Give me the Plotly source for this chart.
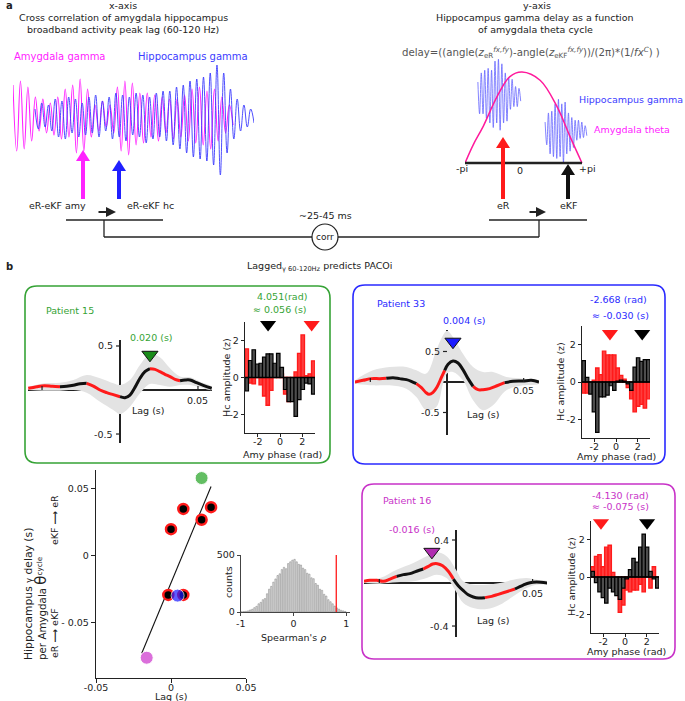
import numpy as np
import plotly.graph_objects as go

W, H = 685, 701
FONT = "DejaVu Sans"
TXT = "#222222"
RED = "#ff1a1a"
GREEN = "#36a336"
BLUE = "#2a2aff"
MAG = "#c832c8"
PINK = "#ff22ff"
HCBLUE = "#3c3cff"

# ================= DATA =================
# panel a – illustrative gamma traces (successive extrema, arbitrary units)
amy_gamma = [0.8, -0.85, 0.9, -0.8, 0.75, -0.6, 0.5, -0.35, 0.45, -0.4,
             0.35, -0.45, 0.5, -0.55, 0.7, -0.5, 0.8, -0.9, 0.95, -0.85,
             0.7, -0.5, 0.3, -0.35, 0.4, -0.25, 0.3, -0.4, 0.75, -0.85,
             0.9, -0.95, 0.85, -0.7, 0.6, -0.65, 0.6, -0.5, 0.55, -0.6,
             0.5, -0.4, 0.45, -0.55, 0.45, -0.5, 0.55, -0.6, 0.7, -0.65,
             0.75, -0.7, 0.65, -0.8, 0.7, -0.6, 0.5, -0.4, 0.3, -0.2]
hc_gamma = [0.2, -0.3, 0.35, -0.25, 0.3, -0.35, 0.45, -0.5, 0.4, -0.55,
            0.5, -0.4, 0.45, -0.5, 0.35, -0.45, 0.5, -0.4, 0.55, -0.5,
            0.4, -0.35, 0.5, -0.55, 0.6, -0.5, 0.55, -0.6, 0.5, -0.45,
            0.6, -0.5, 0.55, -0.65, 0.5, -0.55, 0.6, -0.5, 0.65, -0.6,
            0.65, -0.7, 0.75, -0.8, 0.8, -0.9, 0.9, -1.0, 0.95, -1.05,
            1.0, -1.1, 1.1, -1.2, 1.3, -1.45, 1.1, -0.9, 0.7, -0.55,
            0.45, -0.35, 0.3, -0.25, 0.2, -0.15]
# amygdala theta cycle (phase, normalised amplitude)
theta_phase = [-3.14, -2.7, -2.17, -1.42, -0.73, -0.08, 0.89, 1.8, 2.5, 3.14]
theta_amp = [0.0, 0.2, 0.40, 0.73, 0.95, 1.0, 0.91, 0.62, 0.29, 0.0]
burst1 = [0.15, -0.2, 0.25, -0.2, 0.28, -0.25, 0.3, -0.3, 0.28, -0.35, 0.38, -0.3, 0.4, -0.38, 0.35,
          -0.3, 0.25, -0.28, 0.2, -0.15, 0.18, -0.12, 0.1, -0.12, 0.08, -0.06]
burst2 = [0.1, -0.15, 0.2, -0.25, 0.22, -0.28, 0.3, -0.3, 0.35, -0.28, 0.3, -0.35, 0.32, -0.25, 0.2,
          -0.22, 0.15, -0.18, 0.12, -0.1, 0.12, -0.08, 0.1, -0.07, 0.06, -0.05]

# panel b – cross-correlation curves (lag s, r)
p15_lag = [-0.0588, -0.0534, -0.0485, -0.0434, -0.0385, -0.0342, -0.0299, -0.0256, -0.0214, -0.0171,
           -0.0128, -0.0085, -0.0043, 0.0, 0.0032, 0.0064, 0.0096, 0.0128, 0.0160, 0.0192, 0.0224,
           0.0256, 0.0288, 0.0321, 0.0353, 0.0385, 0.0417, 0.0449, 0.0491, 0.0534, 0.0588]
p15_r = [0.019, 0.038, 0.049, 0.042, 0.038, 0.042, 0.053, 0.072, 0.076, 0.045, 0.0, -0.030, -0.053,
         -0.076, -0.087, -0.057, 0.030, 0.133, 0.208, 0.242, 0.235, 0.208, 0.178, 0.152, 0.121, 0.106,
         0.114, 0.114, 0.083, 0.053, 0.019]
p15_breaks = [0, 4, 8, 13, 19, 25, 30]
p15_blag = [-0.0588, -0.0485, -0.0385, -0.0299, -0.0214, -0.0128, -0.0043, 0.0, 0.0064, 0.0128, 0.0192,
            0.0256, 0.0321, 0.0385, 0.0449, 0.0513, 0.0588]
p15_hi = [0.038, 0.076, 0.083, 0.114, 0.17, 0.133, 0.076, 0.057, 0.114, 0.284, 0.409, 0.371, 0.246,
          0.152, 0.144, 0.095, 0.038]
p15_lo = [0.0, -0.008, -0.008, 0.0, -0.03, -0.133, -0.227, -0.273, -0.189, -0.038, 0.068, 0.057, 0.038,
          0.057, 0.057, 0.030, 0.0]

p33_lag = [-0.0602, -0.0548, -0.0493, -0.0439, -0.0396, -0.0352, -0.0309, -0.0265, -0.0233, -0.0200,
           -0.0167, -0.0139, -0.0117, -0.0091, -0.0065, -0.0037, -0.0015, 0.0007, 0.0039, 0.0072,
           0.0104, 0.0137, 0.0170, 0.0202, 0.0235, 0.0278, 0.0322, 0.0376, 0.0430, 0.0496, 0.0550, 0.0600]
p33_r = [0.0, 0.027, 0.055, 0.055, 0.060, 0.071, 0.055, 0.038, 0.011, -0.027, -0.093, -0.169, -0.202,
         -0.169, -0.082, 0.071, 0.191, 0.290, 0.344, 0.311, 0.202, 0.055, -0.071, -0.126, -0.126, -0.109,
         -0.066, -0.011, 0.011, 0.016, 0.027, 0.0]
p33_breaks = [0, 4, 9, 16, 22, 27, 31]
p33_blag = [-0.0602, -0.0483, -0.0374, -0.0265, -0.0200, -0.0135, -0.0070, -0.0026, 0.0, 0.0039, 0.0104,
            0.0170, 0.0235, 0.0300, 0.0387, 0.0496, 0.0600]
p33_hi = [0.027, 0.191, 0.246, 0.246, 0.191, 0.137, 0.519, 0.765, 0.84, 0.738, 0.464, 0.246, 0.164,
          0.164, 0.082, 0.055, 0.027]
p33_lo = [-0.027, -0.055, -0.055, -0.109, -0.246, -0.464, -0.410, -0.027, 0.137, 0.164, 0.027, -0.301,
          -0.464, -0.383, -0.137, -0.055, -0.027]

p16_lag = [-0.0600, -0.0561, -0.0517, -0.0474, -0.0430, -0.0387, -0.0343, -0.0300, -0.0257, -0.0213,
           -0.0180, -0.0152, -0.0122, -0.0087, -0.0050, -0.0017, 0.0015, 0.0048, 0.0080, 0.0113, 0.0146,
           0.0189, 0.0233, 0.0276, 0.0330, 0.0385, 0.0439, 0.0483, 0.0526, 0.0596]
p16_r = [0.016, 0.025, 0.025, 0.016, 0.037, 0.062, 0.078, 0.087, 0.109, 0.130, 0.155, 0.177, 0.180,
         0.161, 0.109, 0.037, -0.025, -0.071, -0.109, -0.130, -0.140, -0.136, -0.124, -0.105, -0.081,
         -0.056, -0.019, 0.003, 0.009, 0.0]
p16_breaks = [0, 5, 9, 15, 21, 25, 29]
p16_blag = [-0.0600, -0.0496, -0.0387, -0.0278, -0.0191, -0.0126, -0.0061, 0.0, 0.0048, 0.0113, 0.0200,
            0.0287, 0.0374, 0.0461, 0.0526, 0.0596]
p16_hi = [0.031, 0.047, 0.124, 0.186, 0.248, 0.285, 0.248, 0.124, 0.016, -0.016, -0.016, 0.0, 0.031,
          0.047, 0.031, 0.016]
p16_lo = [0.0, -0.006, 0.006, 0.016, 0.047, 0.078, 0.047, -0.078, -0.186, -0.233, -0.242, -0.202,
          -0.124, -0.047, -0.016, -0.006]

# peak lag markers (lag s, r)
p15_peak = (0.0192, 0.40)
p33_peak = (0.0039, 0.66)
p16_peak = (-0.0157, 0.29)

# Hc amplitude (z) per amygdala phase bin (20 bins, -pi..pi)
p15_black = [-0.73, 0.92, 1.5, 0.73, 0.77, 1.1, 1.28, 1.28, 0.77, 1.3, 0.55, -0.65, -1.3, -1.3, -2.1, -1.2,
             -0.65, -0.3, -0.35, -0.9]
p15_red = [1.55, -0.3, -0.35, 0.15, -0.4, -1.0, -1.5, -0.7, 0.25, 0.3, 0.2, -0.9, -1.3, -0.6, 0.3, 1.3,
           2.3, 0.1, 0.2, 0.9]
p33_black = [1.15, 0.25, -0.65, -1.6, -2.7, -0.8, -0.8, -0.7, -0.2, -0.45, 0.05, 0.1, 0.05, -0.1, -0.45,
             0.8, 1.3, 1.1, 1.2, 1.2]
p33_red = [-0.6, -0.6, -0.3, 0.1, 0.75, 0.4, 1.65, 1.45, 1.45, 1.45, 0.75, 0.35, 0.15, -0.3, -0.9, -1.6,
           -1.3, -1.2, -1.4, -0.9]
p16_black = [0.3, -0.3, -0.8, -1.1, -1.4, -0.6, -0.8, -1.0, -1.2, -0.6, -0.1, 0.4, 1.0, 0.8, 1.6, 2.3,
             1.6, 0.3, -0.1, -0.6]
p16_red = [0.55, 1.1, 1.2, 0.55, 1.6, 1.7, 0.25, -0.6, -1.9, -1.5, -0.7, -0.8, -0.7, -0.7, -0.4, -0.8,
           0.2, -0.6, 0.55, 0.0]
# preferred phases (red = eR, black = eKF) and marker height
p15_pref = (2.84, -1.07, 2.86)
p33_pref = (-0.56, 2.42, 2.6)
p16_pref = (-2.22, 2.04, 2.9)

# scatter: lag vs delay
other_lag = [0.0, 0.0082, 0.0204, 0.0267, -0.0018, 0.0082]
other_delay = [0.0199, 0.035, 0.0269, 0.0363, -0.0291, -0.0291]
hl_lag = [0.0204, -0.0162, 0.0044]
hl_delay = [0.058, -0.0759, -0.0296]
fit_lag = [-0.0195, 0.0267]
fit_delay = [-0.0725, 0.0517]

# permutation distribution of Spearman's rho
rho_counts = [2, 4, 6, 10, 18, 24, 38, 50, 72, 85, 108, 118, 160, 200, 225, 262, 290, 320, 335, 372,
              392, 380, 425, 440, 455, 462, 440, 418, 412, 385, 372, 340, 332, 300, 292, 250, 235, 200,
              190, 155, 140, 108, 90, 72, 52, 36, 25, 15, 10, 5]
rho_obs = 0.81

# ================= FIGURE =================
fig = go.Figure()
axes = {}
anns = []
shapes = []


def X(x):
    return x / W


def Y(y):
    return 1 - y / H


def make_axes(n, xpx, ypx, xr, yr, xa=None, ya=None):
    xk = 'xaxis' if n == 1 else f'xaxis{n}'
    yk = 'yaxis' if n == 1 else f'yaxis{n}'
    xid = 'x' if n == 1 else f'x{n}'
    yid = 'y' if n == 1 else f'y{n}'
    base = dict(showgrid=False, zeroline=False, showline=False, ticks='', showticklabels=False,
                fixedrange=True, automargin=False, tickfont=dict(family=FONT, size=9.5, color=TXT))
    xd = dict(base, domain=[X(xpx[0]), X(xpx[1])], range=xr, anchor=yid)
    yd = dict(base, domain=[Y(ypx[1]), Y(ypx[0])], range=yr, anchor=xid)
    if xa:
        xd.update(xa)
    if ya:
        yd.update(ya)
    axes[xk] = xd
    axes[yk] = yd
    return xid, yid


def T(x, y, text, size=9.5, color=TXT, xa='center', ya='middle', angle=0):
    anns.append(dict(x=X(x), y=Y(y), xref='paper', yref='paper', text=text, showarrow=False,
                     font=dict(family=FONT, size=size, color=color), xanchor=xa, yanchor=ya,
                     textangle=angle))


def L(x0, y0, x1, y1, color=TXT, w=1.5):
    shapes.append(dict(type='line', xref='paper', yref='paper', x0=X(x0), y0=Y(y0), x1=X(x1), y1=Y(y1),
                       line=dict(color=color, width=w)))


def arrow_up(x, ytip, ybot, color, hw=14, hh=11, sw=4):
    L(x, ytip + hh - 1, x, ybot, color, sw)
    p = (f"M {X(x)} {Y(ytip)} L {X(x - hw / 2)} {Y(ytip + hh)} L {X(x + hw / 2)} {Y(ytip + hh)} Z")
    shapes.append(dict(type='path', xref='paper', yref='paper', path=p, fillcolor=color,
                       line=dict(color=color, width=0)))


def small_arrow(x0, x1, y):
    anns.append(dict(x=X(x1), y=Y(y), xref='paper', yref='paper', ax=-(x1 - x0), ay=0, text='',
                     showarrow=True, arrowhead=2, arrowsize=1, arrowwidth=2, arrowcolor=TXT))


def rrect(x0, y0, x1, y1, r, color, w=1.6):
    p = (f"M {X(x0 + r)} {Y(y0)} L {X(x1 - r)} {Y(y0)} Q {X(x1)} {Y(y0)} {X(x1)} {Y(y0 + r)} "
         f"L {X(x1)} {Y(y1 - r)} Q {X(x1)} {Y(y1)} {X(x1 - r)} {Y(y1)} "
         f"L {X(x0 + r)} {Y(y1)} Q {X(x0)} {Y(y1)} {X(x0)} {Y(y1 - r)} "
         f"L {X(x0)} {Y(y0 + r)} Q {X(x0)} {Y(y0)} {X(x0 + r)} {Y(y0)} Z")
    shapes.append(dict(type='path', xref='paper', yref='paper', path=p, line=dict(color=color, width=w)))


# ---------- panel a, left: gamma traces ----------
xa1, ya1 = make_axes(1, (13, 254), (65, 175), [13, 254], [-1.45, 1.3], xa=dict(visible=False),
                     ya=dict(visible=False))
amy_t = 13 + 3.73 * np.arange(len(amy_gamma))
hc_t = 35 + 3.37 * np.arange(len(hc_gamma))
fig.add_trace(go.Scatter(x=amy_t, y=amy_gamma, xaxis=xa1, yaxis=ya1, mode='lines',
                         line=dict(color=PINK, width=1.1, shape='spline', smoothing=1.2)))
fig.add_trace(go.Scatter(x=hc_t, y=hc_gamma, xaxis=xa1, yaxis=ya1, mode='lines',
                         line=dict(color=HCBLUE, width=1.0, shape='spline', smoothing=1.2), opacity=0.9))

# ---------- panel a, right: theta cycle ----------
xa2, ya2 = make_axes(2, (465, 465 + (3.5 + np.pi) * 18.62), (55, 170), [-np.pi, 3.5], [-0.077, 1.187],
                     xa=dict(visible=False), ya=dict(visible=False))
b1_t = -2.45 + 0.092 * np.arange(len(burst1))
b2_t = 1.16 + 0.0896 * np.arange(len(burst2))
fig.add_trace(go.Scatter(x=b1_t, y=0.74 + np.array(burst1), xaxis=xa2, yaxis=ya2, mode='lines',
                         line=dict(color='#6464ff', width=0.8, shape='spline')))
fig.add_trace(go.Scatter(x=b2_t, y=0.35 + np.array(burst2), xaxis=xa2, yaxis=ya2, mode='lines',
                         line=dict(color='#6464ff', width=0.8, shape='spline')))
fig.add_trace(go.Scatter(x=theta_phase, y=theta_amp, xaxis=xa2, yaxis=ya2, mode='lines',
                         line=dict(color='#ff1a9c', width=1.5, shape='spline')))
shapes.append(dict(type='line', xref=xa2, yref=ya2, x0=-np.pi, x1=np.pi, y0=0, y1=0,
                   line=dict(color=TXT, width=2.5)))

# ---------- panel a text & diagram ----------
T(4, 6, "<b>a</b>", size=10, xa='left')
T(123, 6, "x-axis")
T(123, 17, "Cross correlation of amygdala hippocampus")
T(123, 29, "broadband activity peak lag (60-120 Hz)")
T(60, 57, "Amygdala gamma", size=10, color=PINK)
T(193, 57, "Hippocampus gamma", size=10, color=HCBLUE)
T(537, 6, "y-axis")
T(535, 17, "Hippocampus gamma delay as a function")
T(535, 29, "of amygdala theta cycle")
T(531, 52, "delay=((angle(<i>z</i><sub>eR</sub><sup><i>fx,fy</i></sup>)-angle(<i>z</i><sub>eKF</sub>"
           "<sup><i>fx,fy</i></sup>))/(2π)*(1/<i>fx</i><sup><i>C</i></sup>) )", size=10.2, color='#555555')
T(577, 99, "Hippocampus gamma", size=9.5, color=HCBLUE, xa='left')
T(592, 130, "Amygdala theta", size=9.5, color=PINK, xa='left')
T(462, 169, "-pi")
T(520, 170, "0")
T(587, 169, "+pi")

arrow_up(83, 150, 199, PINK)
arrow_up(119, 160, 199, '#2020ff')
arrow_up(503, 137, 199, RED)
arrow_up(568, 164, 199, '#111111')

T(57, 205, "eR-eKF amy")
T(150, 205, "eR-eKF hc")
T(503, 205, "eR")
T(569, 205, "eKF")
small_arrow(97, 116, 212)
small_arrow(528, 546, 212)
L(66, 220, 163, 220, TXT, 1.3)
L(104, 220, 104, 237, TXT, 1.3)
L(104, 237, 312, 237, TXT, 1.3)
L(338, 237, 539, 237, TXT, 1.3)
L(539, 220, 539, 237, TXT, 1.3)
L(489, 220, 587, 220, TXT, 1.3)
shapes.append(dict(type='circle', xref='paper', yref='paper', x0=X(312), x1=X(338), y0=Y(250), y1=Y(224),
                   line=dict(color=TXT, width=1.2), fillcolor='white'))
T(325, 237, "corr", size=9)
T(325, 216, "~25-45 ms")

# ---------- panel b ----------
T(4, 266, "<b>b</b>", size=10, xa='left')
T(320, 266, "Lagged<sub>γ 60-120Hz</sub> predicts PACOi")

rrect(25, 286, 330, 463, 12, GREEN)
rrect(353, 285, 665, 464, 12, BLUE)
rrect(362, 484, 675, 659, 12, MAG)


def cc_panel(n, xpx, ypx, xr, yr, lag, r, breaks, blag, bhi, blo, peak, pcol, ytv, ytt, xtv, xtt,
             xshift_lab=-3):
    xid, yid = make_axes(n, xpx, ypx, xr, yr,
                         xa=dict(zeroline=True, zerolinecolor=TXT, zerolinewidth=1.2),
                         ya=dict(zeroline=True, zerolinecolor=TXT, zerolinewidth=1.2))
    fig.add_trace(go.Scatter(x=list(blag) + list(blag)[::-1], y=list(bhi) + list(blo)[::-1],
                             xaxis=xid, yaxis=yid, mode='lines', fill='toself', fillcolor='#e3e3e3',
                             line=dict(width=0, shape='spline', color='#e3e3e3')))
    for k in range(len(breaks) - 1):
        i0, i1 = breaks[k], breaks[k + 1]
        col = RED if k % 2 == 0 else '#111111'
        fig.add_trace(go.Scatter(x=lag[i0:i1 + 1], y=r[i0:i1 + 1], xaxis=xid, yaxis=yid, mode='lines',
                                 line=dict(color=col, width=3, shape='spline')))
    fig.add_trace(go.Scatter(x=[peak[0]], y=[peak[1]], xaxis=xid, yaxis=yid, mode='markers',
                             marker=dict(symbol='triangle-down', size=14, color=pcol,
                                         line=dict(color='#111111', width=1)), cliponaxis=False))
    sx = (xpx[1] - xpx[0]) / (xr[1] - xr[0])
    sy = (ypx[1] - ypx[0]) / (yr[1] - yr[0])
    for v, t in zip(ytv, ytt):
        shapes.append(dict(type='line', xref=xid, yref=yid, x0=-4 / sx, x1=0, y0=v, y1=v,
                           line=dict(color=TXT, width=1.2)))
        anns.append(dict(x=0, y=v, xref=xid, yref=yid, text=t, showarrow=False, xanchor='right',
                         xshift=-5, font=dict(family=FONT, size=9.5, color=TXT)))
    for v, t in zip(xtv, xtt):
        shapes.append(dict(type='line', xref=xid, yref=yid, x0=v, x1=v, y0=0, y1=4 / sy,
                           line=dict(color=TXT, width=1.2)))
        if t:
            anns.append(dict(x=v, y=0, xref=xid, yref=yid, text=t, showarrow=False, yanchor='top',
                             yshift=xshift_lab, font=dict(family=FONT, size=9.5, color=TXT)))


def bar_panel(n, xpx, ypx, red, black, pref):
    ax_style = dict(showline=True, linecolor=TXT, linewidth=1.2, ticks='outside', ticklen=3,
                    tickcolor=TXT, showticklabels=True, tickvals=[-2, 0, 2], ticktext=['-2', '0', '2'])
    xid, yid = make_axes(n, xpx, ypx, [-np.pi, np.pi], [-3, 3], xa=dict(ax_style, ticklabelstandoff=-4),
                         ya=dict(ax_style))
    edges = np.linspace(-np.pi, np.pi, len(red) + 1)
    centers = (edges[:-1] + edges[1:]) / 2
    wbin = edges[1] - edges[0]
    fig.add_trace(go.Bar(x=centers, y=red, width=wbin, xaxis=xid, yaxis=yid,
                         marker=dict(color='rgba(255,40,40,0.9)', line=dict(color=RED, width=1.3))))
    fig.add_trace(go.Bar(x=centers, y=black, width=wbin, xaxis=xid, yaxis=yid,
                         marker=dict(color='#4d4d4d', line=dict(color='#000000', width=1.2))))
    shapes.append(dict(type='line', xref=xid, yref=yid, x0=-np.pi, x1=np.pi, y0=0, y1=0,
                       line=dict(color='#000000', width=1.5)))
    fig.add_trace(go.Scatter(x=[pref[0], pref[1]], y=[pref[2], pref[2]], xaxis=xid, yaxis=yid,
                             mode='markers', cliponaxis=False,
                             marker=dict(symbol='triangle-down', size=14, color=[RED, '#000000'],
                                         line=dict(width=0))))


# Patient 15
cc_panel(3, (28, 212), (340, 443), [-0.059, 0.059], [-0.602, 0.568], p15_lag, p15_r, p15_breaks,
         p15_blag, p15_hi, p15_lo, p15_peak, '#1a8c1a', [0.5, -0.5], ['0.5', '-0.5'],
         [-0.05, 0.05], ['', '0.05'])
bar_panel(4, (245, 315), (322, 433), p15_red, p15_black, p15_pref)
T(44, 310, "Patient 15", color=GREEN, xa='left')
T(151, 337, "0.020 (s)", color=GREEN)
T(148, 410, "Lag (s)")
T(282, 296, "4.051(rad)", color=GREEN)
T(280, 309, "≈ 0.056 (s)", color=GREEN)
T(227, 378, "Hc amplitude (z)", angle=-90)
T(282, 454, "Amy phase (rad)")

# Patient 33
cc_panel(5, (355, 539), (330, 435), [-0.060, 0.060], [-0.869, 0.852], p33_lag, p33_r, p33_breaks,
         p33_blag, p33_hi, p33_lo, p33_peak, '#1a1aff', [0.5, -0.5], ['0.5', '-0.5'],
         [-0.05, 0.05], ['', '0.05'], xshift_lab=-1)
bar_panel(6, (582, 650), (326, 438), p33_red, p33_black, p33_pref)
T(375, 303, "Patient 33", color=BLUE, xa='left')
T(464, 320, "0.004 (s)", color=BLUE)
T(483, 414, "Lag (s)")
T(618, 299, "-2.668 (rad)", color=BLUE)
T(620, 315, "≈ -0.030 (s)", color=BLUE)
T(561, 382, "Hc amplitude (z)", angle=-90)
T(616, 456, "Amy phase (rad)")

# Patient 16
cc_panel(9, (364, 547), (530, 637), [-0.060, 0.0594], [-0.502, 0.493], p16_lag, p16_r, p16_breaks,
         p16_blag, p16_hi, p16_lo, p16_peak, '#b02cb0', [0.4, -0.4], ['0.4', '-0.4'],
         [-0.05, 0.05], ['', '0.05'])
bar_panel(10, (591, 659), (521, 633), p16_red, p16_black, p16_pref)
T(381, 500, "Patient 16", color=MAG, xa='left')
T(412, 529, "-0.016 (s)", color=MAG)
T(493, 620, "Lag (s)")
T(620, 495, "-4.130 (rad)", color=MAG)
T(620, 506, "≈ -0.075 (s)", color=MAG)
T(571, 577, "Hc amplitude (z)", angle=-90)
T(626, 651, "Amy phase (rad)")

# ---------- scatter ----------
sc_style = dict(showline=True, linecolor=TXT, linewidth=1.2, ticks='outside', ticklen=4, tickcolor=TXT,
                showticklabels=True)
xs, ys = make_axes(7, (96, 246), (470, 678), [-0.05, 0.05], [-0.091, 0.064],
                   xa=dict(sc_style, tickvals=[-0.05, 0, 0.05], ticktext=['-0.05', '0', '0.05'],
                           ticklabelstandoff=-4),
                   ya=dict(sc_style, tickvals=[-0.05, 0, 0.05], ticktext=['- 0.05', '0', '0.05']))
fig.add_trace(go.Scatter(x=fit_lag, y=fit_delay, xaxis=xs, yaxis=ys, mode='lines',
                         line=dict(color='#111111', width=1.1)))
fig.add_trace(go.Scatter(x=other_lag, y=other_delay, xaxis=xs, yaxis=ys, mode='markers', cliponaxis=False,
                         marker=dict(size=10, color='#000000', line=dict(color=RED, width=2.5))))
fig.add_trace(go.Scatter(x=hl_lag, y=hl_delay, xaxis=xs, yaxis=ys, mode='markers', cliponaxis=False,
                         marker=dict(size=[13, 13, 13], color=['#22a322', '#cc33cc', '#1a1aff'])))
T(171, 696, "Lag (s)")
T(28, 662, "Hippocampus <span style='font-size:8px'>γ</span> delay (s)", size=10.8, angle=-90,
  ya='bottom')
T(41, 662, "per Amygdala <span style='font-size:15px'>θ</span><sup>cycle</sup>", size=10.3, angle=-90,
  ya='bottom')
T(54, 520, "eKF <b>⟶</b> eR", size=9.5, angle=-90)
T(54, 633, "eR <b>⟶</b> eKF", size=9.5, angle=-90)

# ---------- spearman histogram ----------
sp_style = dict(showline=True, linecolor='#444444', linewidth=1, ticks='outside', ticklen=3,
                tickcolor='#444444', showticklabels=True)
xh, yh = make_axes(8, (240.7, 350), (555, 612), [-1, 1.07], [0, 500],
                   xa=dict(sp_style, tickvals=[-1, 0, 1], ticktext=['-1', '0', '1']),
                   ya=dict(sp_style, tickvals=[0, 500], ticktext=['0', '500']))
rho_centers = np.linspace(-0.98, 0.98, len(rho_counts))
fig.add_trace(go.Bar(x=rho_centers, y=rho_counts, width=0.026, xaxis=xh, yaxis=yh,
                     marker=dict(color='#e2e2e2', line=dict(color='#808080', width=0.5))))
shapes.append(dict(type='line', xref=xh, yref=yh, x0=rho_obs, x1=rho_obs, y0=0, y1=500,
                   line=dict(color=RED, width=1.3)))
T(228, 582, "counts", angle=-90)
T(293, 637, "Spearman's <i>ρ</i>")

fig.update_layout(width=W, height=H, margin=dict(l=0, r=0, t=0, b=0, pad=0, autoexpand=False),
                  autosize=False, showlegend=False,
                  plot_bgcolor='white', paper_bgcolor='white', barmode='overlay', bargap=0,
                  font=dict(family=FONT, size=9.5, color=TXT), annotations=anns, shapes=shapes, **axes)
fig.write_html("out.html", config={'displayModeBar': False, 'staticPlot': True},
               post_script="document.body.style.margin='0px';document.body.style.overflow='hidden';")
